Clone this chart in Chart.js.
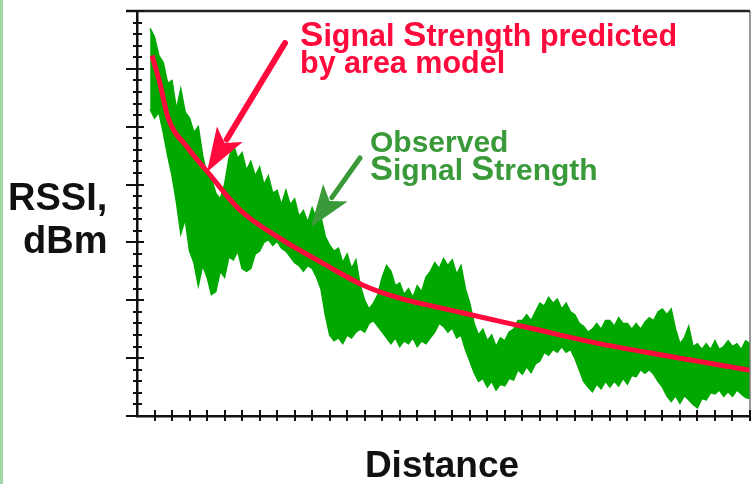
<!DOCTYPE html>
<html>
<head>
<meta charset="utf-8">
<script src="https://cdn.jsdelivr.net/npm/chart.js@4.4.1/dist/chart.umd.min.js"></script>
<style>
    body { margin: 0; background: #fff; }
    canvas { display: block; }
</style>
</head>
<body>
<canvas id="rssi-chart" width="754" height="484"></canvas>
<script>
// distance in tick units, signal in dBm
const distance = [
    0.75, 1, 1.25, 1.5, 1.75, 2, 2.25, 2.5,
    2.75, 3, 3.25, 3.5, 3.75, 4, 4.25, 4.5,
    4.75, 5, 5.25, 5.5, 5.75, 6, 6.25, 6.5,
    6.75, 7, 7.25, 7.5, 7.75, 8, 8.25, 8.5,
    8.75, 9, 9.25, 9.5, 9.75, 10, 10.25, 10.5,
    10.75, 11, 11.25, 11.5, 11.75, 12, 12.25, 12.5,
    12.75, 13, 13.25, 13.5, 13.75, 14, 14.25, 14.5,
    14.75, 15, 15.25, 15.5, 15.75, 16, 16.25, 16.5,
    16.75, 17, 17.25, 17.5, 17.75, 18, 18.25, 18.5,
    18.75, 19, 19.25, 19.5, 19.75, 20, 20.25, 20.5,
    20.75, 21, 21.25, 21.5, 21.75, 22, 22.25, 22.5,
    22.75, 23, 23.25, 23.5, 23.75, 24, 24.25, 24.5,
    24.75, 25, 25.25, 25.5, 25.75, 26, 26.25, 26.5,
    26.75, 27, 27.25, 27.5, 27.75, 28, 28.25, 28.5,
    28.75, 29, 29.25, 29.5, 29.75, 30, 30.25, 30.5,
    30.75, 31, 31.25, 31.5, 31.75, 32, 32.25, 32.5,
    32.75, 33, 33.25, 33.5, 33.75, 34, 34.25, 34.5,
    34.75, 35];

// upper and lower edge of the observed (noisy) signal band
const observedHigh = [
    -33.0, -34.5, -37.7, -38.9, -42.5, -42.0, -47.0, -43.5,
    -47.5, -48.5, -51.0, -50.0, -55.0, -58.4, -59.0, -61.5,
    -62.5, -60.0, -55.5, -53.0, -55.5, -54.5, -57.5, -56.0,
    -58.5, -57.0, -60.0, -58.5, -61.5, -61.0, -63.5, -61.0,
    -63.5, -62.5, -65.5, -64.5, -66.5, -64.0, -66.0, -65.5,
    -69.0, -70.5, -71.5, -71.0, -73.5, -72.0, -74.5, -73.0,
    -77.5, -80.0, -81.5, -80.5, -79.0, -76.0, -74.0, -75.0,
    -77.5, -77.0, -79.0, -78.0, -79.5, -77.5, -78.5, -76.0,
    -75.0, -73.5, -74.5, -72.8, -74.0, -73.0, -75.5, -74.0,
    -78.0, -80.5, -84.0, -86.0, -85.0, -87.0, -86.0, -88.0,
    -86.5, -87.0, -85.5, -85.0, -83.5, -83.5, -82.5, -83.5,
    -82.0, -80.5, -81.0, -79.5, -80.5, -79.8, -81.5, -80.5,
    -82.0, -82.5, -84.0, -84.5, -85.5, -85.0, -84.0, -85.0,
    -83.5, -83.5, -84.5, -83.0, -84.0, -84.0, -85.0, -84.0,
    -85.0, -83.8, -83.0, -83.5, -82.0, -81.5, -82.5, -81.5,
    -85.0, -87.5, -86.5, -84.5, -88.0, -87.5, -88.5, -87.5,
    -88.5, -87.0, -88.5, -88.0, -87.0, -88.0, -87.5, -88.5,
    -87.0, -87.5];

const observedLow = [
    -47.0, -48.5, -47.5, -51.0, -55.0, -58.5, -63.0, -68.5,
    -66.0, -71.5, -73.5, -77.5, -74.0, -76.0, -79.0, -78.5,
    -75.0, -76.0, -72.5, -73.0, -71.5, -74.5, -75.0, -74.5,
    -72.0, -71.5, -70.0, -69.5, -70.5, -69.8, -71.0, -71.5,
    -72.5, -73.5, -74.0, -75.0, -74.0, -74.5, -76.0, -78.0,
    -82.5, -86.0, -87.0, -86.5, -87.5, -86.0, -86.5, -85.5,
    -85.0, -85.5, -84.0, -83.5, -84.5, -85.5, -86.5, -87.5,
    -86.5, -88.0, -87.0, -87.5, -86.5, -88.0, -87.0, -87.5,
    -86.5, -85.5, -84.0, -84.5, -85.5, -84.8, -86.5, -86.0,
    -88.5, -90.5, -92.5, -94.0, -93.5, -95.0, -94.0, -95.5,
    -94.5, -94.8, -93.5, -93.8, -92.0, -92.8, -91.5, -92.5,
    -91.0, -90.5, -89.0, -89.5, -88.5, -89.0, -88.0, -89.0,
    -88.5, -90.0, -92.0, -94.0, -95.0, -95.8, -94.5, -95.3,
    -94.0, -95.0, -94.0, -94.8, -93.5, -94.5, -93.0, -93.2,
    -92.0, -92.6, -92.0, -92.8, -94.0, -95.0, -96.5, -97.5,
    -96.5, -97.8, -96.5, -97.2, -98.0, -98.6, -97.0, -97.2,
    -96.0, -96.2, -95.5, -96.6, -95.8, -96.6, -95.5, -96.2,
    -96.8, -97.0];

const modelDistance = [0.86, 1.31, 1.77, 2.86, 4.0, 5.88, 8.17, 11.02, 12.91, 14.85, 18.62, 22.44, 26.27, 30.04, 35];
const modelSignal = [-37.7, -42.5, -48.4, -53.5, -57.7, -64.4, -69.3, -74.3, -77.4, -79.5, -82.2, -84.8, -87.4, -89.5, -92.1];

const GREEN = '#00a800';
const RED = '#ff0a3c';
const NOTE_GREEN = '#3a9a3a';
const FONT = '"Liberation Sans", Arial, sans-serif';

function points(xs, ys) {
    return xs.map((x, i) => ({ x: x, y: ys[i] }));
}

// big capital S like in the original annotation
function drawStyled(ctx, text, x, y, size, color) {
    ctx.fillStyle = color;
    for (const ch of text) {
        const s = ch === 'S' ? size * 1.15 : size;
        ctx.font = `bold ${s}px ${FONT}`;
        ctx.fillText(ch, x, y);
        x += ctx.measureText(ch).width;
    }
}

function drawArrow(ctx, x1, y1, x2, y2, color, width, headLen, headHalf) {
    const a = Math.atan2(y2 - y1, x2 - x1);
    const bx = x2 - Math.cos(a) * headLen;
    const by = y2 - Math.sin(a) * headLen;
    ctx.strokeStyle = color;
    ctx.fillStyle = color;
    ctx.lineWidth = width;
    ctx.lineCap = 'round';
    ctx.beginPath();
    ctx.moveTo(x1, y1);
    ctx.lineTo(bx + Math.cos(a) * 6, by + Math.sin(a) * 6);
    ctx.stroke();
    ctx.beginPath();
    ctx.moveTo(x2, y2);
    ctx.lineTo(bx - Math.sin(a) * headHalf, by + Math.cos(a) * headHalf);
    ctx.lineTo(bx + Math.cos(a) * 10, by + Math.sin(a) * 10);
    ctx.lineTo(bx + Math.sin(a) * headHalf, by - Math.cos(a) * headHalf);
    ctx.closePath();
    ctx.fill();
}

const frame = {
    id: 'frame',
    afterDraw(chart) {
        const { ctx, chartArea: a, scales: { x, y } } = chart;
        ctx.save();

        // left page strip
        ctx.fillStyle = '#a5d6a7';
        ctx.fillRect(0, 0, 3, chart.height);

        // right and top border
        ctx.strokeStyle = '#777';
        ctx.lineWidth = 1.5;
        ctx.beginPath();
        ctx.moveTo(a.right, a.top);
        ctx.lineTo(a.right, a.bottom);
        ctx.stroke();
        ctx.strokeStyle = '#222';
        ctx.lineWidth = 2.5;
        ctx.beginPath();
        ctx.moveTo(a.left - 11, a.top);
        ctx.lineTo(a.right, a.top);
        ctx.stroke();

        // tick marks
        ctx.strokeStyle = '#111';
        ctx.lineWidth = 2;
        y.ticks.forEach(t => {
            const py = Math.round(y.getPixelForValue(t.value));
            const major = t.value % 10 === 0;
            ctx.beginPath();
            ctx.moveTo(a.left - (major ? 11 : 4), py);
            ctx.lineTo(a.left + (major ? 7 : 5), py);
            ctx.stroke();
        });
        x.ticks.forEach(t => {
            if (t.value === 0) return;
            const px = Math.round(x.getPixelForValue(t.value));
            ctx.beginPath();
            ctx.moveTo(px, a.bottom - 6);
            ctx.lineTo(px, a.bottom + 5);
            ctx.stroke();
        });

        // axis titles
        ctx.fillStyle = '#111';
        ctx.textBaseline = 'alphabetic';
        ctx.font = `bold 38px ${FONT}`;
        ctx.textAlign = 'left';
        ctx.fillText('RSSI,', 8, 210);
        ctx.fillText('dBm', 23, 253);
        ctx.font = `bold 37px ${FONT}`;
        ctx.textAlign = 'center';
        ctx.fillText('Distance', 442, 477);

        // annotations
        ctx.textAlign = 'left';
        drawStyled(ctx, 'Signal Strength predicted', 300, 46, 30.5, RED);
        drawStyled(ctx, 'by area model', 300, 73, 30.5, RED);
        drawStyled(ctx, 'Observed', 370, 152, 30, NOTE_GREEN);
        drawStyled(ctx, 'Signal Strength', 370, 180, 30, NOTE_GREEN);

        drawArrow(ctx, 285, 43, 207, 172, RED, 6, 44, 15);
        drawArrow(ctx, 360, 158, 311, 227, NOTE_GREEN, 5, 42, 15);

        ctx.restore();
    }
};

const ctx = document.getElementById('rssi-chart').getContext('2d');
const rssiChart = new Chart(ctx, {
    type: 'line',
    data: {
        datasets: [{
            label: 'Observed high',
            data: points(distance, observedHigh),
            borderColor: GREEN,
            backgroundColor: GREEN,
            borderWidth: 1.5,
            pointRadius: 0,
            fill: '+1',
            order: 2,
        }, {
            label: 'Observed low',
            data: points(distance, observedLow),
            borderColor: GREEN,
            borderWidth: 1.5,
            pointRadius: 0,
            fill: false,
            order: 2,
        }, {
            label: 'Area model',
            data: points(modelDistance, modelSignal),
            borderColor: RED,
            borderWidth: 5,
            pointRadius: 0,
            cubicInterpolationMode: 'monotone',
            fill: false,
            order: 1,
        }]
    },
    options: {
        responsive: false,
        animation: false,
        layout: { padding: { left: 137, top: 11, right: 4, bottom: 68 } },
        plugins: {
            legend: { display: false },
            tooltip: { enabled: false },
        },
        scales: {
            x: {
                type: 'linear',
                min: 0,
                max: 35,
                ticks: { stepSize: 1, display: false },
                grid: { display: false, drawTicks: false },
                border: { display: true, color: '#111', width: 2.5 },
            },
            y: {
                type: 'linear',
                min: -100,
                max: -30,
                ticks: { stepSize: 2, display: false },
                grid: { display: false, drawTicks: false },
                border: { display: true, color: '#111', width: 2.5 },
            }
        }
    },
    plugins: [frame]
});
</script>
</body>
</html>
